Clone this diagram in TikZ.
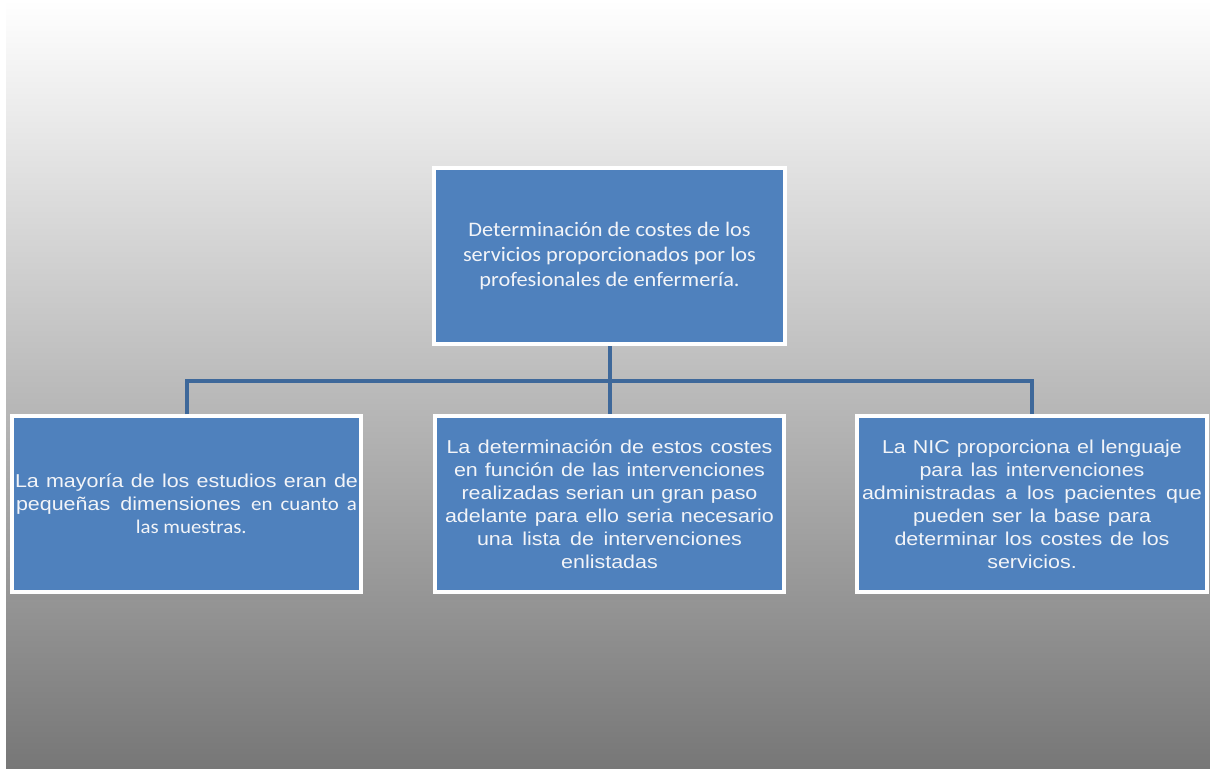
\documentclass[tikz,border=0pt]{standalone}
\usepackage{fontspec}
\setmainfont{Liberation Sans}[FakeStretch=1.15]
\newfontfamily\calfont{Carlito}[FakeStretch=1.08]
\definecolor{boxblue}{RGB}{79,129,189}
\definecolor{wireblue}{RGB}{62,104,154}
\definecolor{boxtext}{RGB}{242,244,248}
\definecolor{bgmid}{RGB}{196,196,196}
\definecolor{bgbot}{RGB}{119,119,119}
\newlength\pxu
\setlength\pxu{0.75pt}
% one text line spread to a given width (in pixels)
\newcommand{\fitline}[2]{\makebox[#1\pxu][s]{#2}}
\tikzset{
  box/.style={draw=white, line width=3pt, fill=boxblue, text=boxtext,
    minimum width=262pt, minimum height=132pt, inner sep=1pt, align=center,
    font=\fontsize{14}{17.25}\selectfont},
  topbox/.style={box, minimum width=263pt, font=\calfont\fontsize{15.5}{18.4}\selectfont},
  wire/.style={draw=wireblue, line width=3pt}
}
\begin{document}
\begin{tikzpicture}[x=0.75pt,y=-0.75pt]
        \useasboundingbox (0,0) rectangle (1210,768);
        \fill[white] (0,0) rectangle (1210,768);
        \shade[top color=white, middle color=bgmid, bottom color=bgbot] (6,0) rectangle (1210,768);

        \node[topbox] (root) at (609.5,256) {Determinación de costes de los\\servicios proporcionados por los\\profesionales de enfermería.};

        \node[box] (left) at (186.5,504) {\fitline{343}{La mayoría de los estudios eran de}\\
          \fitline{341}{pequeñas dimensiones {\calfont\fontsize{14.5}{17.25}\selectfont en cuanto a}}\\
          {\calfont\fontsize{14.5}{17.25}\selectfont\ \ las muestras.}};
        \node[box] (mid) at (609.5,504) {\fitline{326}{La determinación de estos costes}\\
          \fitline{311}{en función de las intervenciones}\\
          \fitline{296}{realizadas serian un gran paso}\\
          \fitline{329}{adelante para ello seria necesario}\\
          \fitline{265}{una lista de intervenciones}\\
          enlistadas};
        \node[box] (right) at (1032,504) {\fitline{300}{La NIC proporciona el lenguaje}\\
          \fitline{225}{para las intervenciones}\\
          \fitline{340}{administradas a los pacientes que}\\
          \fitline{238}{pueden ser la base para}\\
          \fitline{275}{determinar los costes de los}\\
          servicios.};

        \coordinate (bus) at (609.5,381);
        \draw[wire] (root) -- (bus);
        \draw[wire] (left) |- (bus) -| (right);
        \draw[wire] (bus) -- (mid);
    \end{tikzpicture}
\end{document}
